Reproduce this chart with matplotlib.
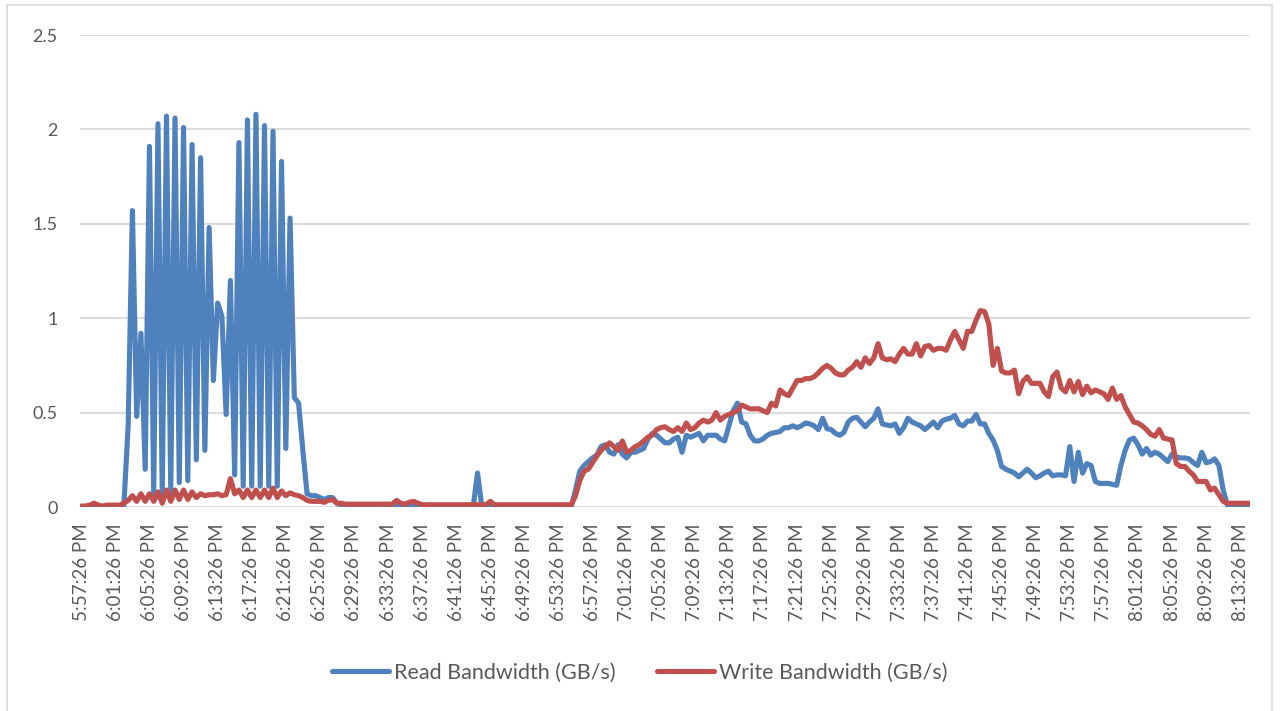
import matplotlib.pyplot as plt
import matplotlib.patches as mpatches
import pandas as pd
import numpy as np

# samples every 30 s starting 5:57:26 PM
times = pd.date_range("2020-01-01 17:57:26", periods=275, freq="30s")
time_labels = [t.strftime("%-I:%M:%S %p") for t in times]

read_bw = [
    0.0, 0.0, 0.0, 0.0, 0.0, 0.0, 0.0, 0.0, 0.0, 0.0,
    0.01, 0.43, 1.57, 0.48, 0.92, 0.20, 1.91, 0.07, 2.03, 0.07,
    2.07, 0.08, 2.06, 0.13, 2.01, 0.14, 1.92, 0.25, 1.85, 0.30,
    1.48, 0.67, 1.08, 1.01, 0.49, 1.20, 0.17, 1.93, 0.11, 2.05,
    0.11, 2.08, 0.11, 2.02, 0.11, 1.99, 0.11, 1.83, 0.31, 1.53,
    0.58, 0.55, 0.30, 0.07, 0.06, 0.06, 0.05, 0.04, 0.05, 0.05,
    0.02, 0.01, 0.005, 0.005, 0.005, 0.005, 0.005, 0.005, 0.005, 0.005,
    0.005, 0.005, 0.005, 0.005, 0.005, 0.005, 0.005, 0.005, 0.005, 0.005,
    0.005, 0.005, 0.005, 0.005, 0.005, 0.005, 0.005, 0.005, 0.005, 0.005,
    0.005, 0.005, 0.005, 0.18, 0.005, 0.005, 0.005, 0.005, 0.005, 0.005,
    0.005, 0.005, 0.005, 0.005, 0.005, 0.005, 0.005, 0.005, 0.005, 0.005,
    0.005, 0.005, 0.005, 0.005, 0.005, 0.005, 0.09, 0.19, 0.22, 0.24,
    0.26, 0.275, 0.32, 0.33, 0.29, 0.28, 0.33, 0.28, 0.26, 0.29,
    0.29, 0.30, 0.31, 0.36, 0.39, 0.38, 0.36, 0.34, 0.34, 0.36,
    0.37, 0.29, 0.38, 0.37, 0.38, 0.39, 0.35, 0.38, 0.38, 0.38,
    0.36, 0.35, 0.43, 0.51, 0.55, 0.45, 0.44, 0.38, 0.35, 0.35,
    0.36, 0.38, 0.39, 0.395, 0.40, 0.42, 0.42, 0.43, 0.42, 0.43,
    0.445, 0.44, 0.43, 0.41, 0.47, 0.415, 0.41, 0.39, 0.38, 0.395,
    0.45, 0.47, 0.475, 0.45, 0.425, 0.45, 0.47, 0.52, 0.44, 0.435,
    0.43, 0.44, 0.39, 0.42, 0.47, 0.45, 0.44, 0.43, 0.41, 0.43,
    0.45, 0.42, 0.455, 0.465, 0.47, 0.485, 0.44, 0.43, 0.455, 0.455,
    0.49, 0.44, 0.44, 0.39, 0.355, 0.30, 0.215, 0.20, 0.19, 0.18,
    0.16, 0.18, 0.20, 0.18, 0.155, 0.165, 0.18, 0.19, 0.165, 0.17,
    0.17, 0.165, 0.32, 0.135, 0.29, 0.18, 0.23, 0.22, 0.135, 0.125,
    0.125, 0.125, 0.12, 0.115, 0.22, 0.30, 0.355, 0.365, 0.33, 0.28,
    0.31, 0.275, 0.29, 0.28, 0.26, 0.24, 0.28, 0.265, 0.26, 0.26,
    0.255, 0.235, 0.22, 0.29, 0.235, 0.24, 0.255, 0.22, 0.09, 0.01,
    0.005, 0.005, 0.005, 0.005, 0.005,
]

write_bw = [
    0.005, 0.005, 0.01, 0.02, 0.01, 0.005, 0.01, 0.01, 0.01, 0.01,
    0.02, 0.035, 0.06, 0.03, 0.07, 0.03, 0.07, 0.03, 0.08, 0.02,
    0.09, 0.03, 0.09, 0.04, 0.09, 0.04, 0.08, 0.05, 0.07, 0.06,
    0.065, 0.065, 0.07, 0.06, 0.065, 0.15, 0.07, 0.09, 0.05, 0.09,
    0.05, 0.09, 0.05, 0.09, 0.05, 0.10, 0.05, 0.085, 0.06, 0.075,
    0.065, 0.06, 0.05, 0.035, 0.03, 0.03, 0.03, 0.025, 0.035, 0.04,
    0.02, 0.02, 0.015, 0.015, 0.015, 0.015, 0.015, 0.015, 0.015, 0.015,
    0.015, 0.015, 0.015, 0.015, 0.035, 0.02, 0.015, 0.025, 0.03, 0.02,
    0.012, 0.012, 0.012, 0.012, 0.012, 0.012, 0.012, 0.012, 0.012, 0.012,
    0.012, 0.012, 0.012, 0.012, 0.012, 0.012, 0.03, 0.012, 0.012, 0.012,
    0.012, 0.012, 0.012, 0.012, 0.012, 0.012, 0.012, 0.012, 0.012, 0.012,
    0.012, 0.012, 0.012, 0.012, 0.012, 0.012, 0.06, 0.14, 0.19, 0.20,
    0.235, 0.27, 0.30, 0.32, 0.34, 0.32, 0.30, 0.35, 0.29, 0.30,
    0.32, 0.33, 0.35, 0.37, 0.38, 0.41, 0.42, 0.425, 0.41, 0.40,
    0.42, 0.40, 0.445, 0.41, 0.42, 0.445, 0.46, 0.45, 0.46, 0.50,
    0.46, 0.48, 0.49, 0.50, 0.51, 0.54, 0.53, 0.52, 0.52, 0.52,
    0.51, 0.50, 0.55, 0.535, 0.62, 0.60, 0.59, 0.63, 0.67, 0.67,
    0.68, 0.68, 0.69, 0.71, 0.735, 0.75, 0.735, 0.71, 0.70, 0.70,
    0.725, 0.74, 0.77, 0.74, 0.79, 0.76, 0.79, 0.865, 0.79, 0.78,
    0.785, 0.77, 0.81, 0.84, 0.81, 0.81, 0.865, 0.80, 0.85, 0.855,
    0.83, 0.84, 0.84, 0.83, 0.885, 0.93, 0.885, 0.84, 0.93, 0.93,
    0.99, 1.04, 1.035, 0.97, 0.75, 0.84, 0.72, 0.71, 0.71, 0.725,
    0.60, 0.665, 0.69, 0.655, 0.655, 0.655, 0.61, 0.585, 0.69, 0.715,
    0.63, 0.61, 0.67, 0.61, 0.665, 0.595, 0.64, 0.605, 0.62, 0.61,
    0.60, 0.57, 0.63, 0.57, 0.59, 0.53, 0.49, 0.45, 0.445, 0.43,
    0.41, 0.385, 0.375, 0.41, 0.365, 0.36, 0.355, 0.23, 0.215, 0.215,
    0.19, 0.17, 0.135, 0.135, 0.135, 0.09, 0.10, 0.065, 0.03, 0.02,
    0.02, 0.02, 0.02, 0.02, 0.02,
]

y_ticks = [0, 0.5, 1, 1.5, 2, 2.5]
y_tick_labels = ["0", "0.5", "1", "1.5", "2", "2.5"]

plt.rcParams['font.family'] = ['Lato', 'DejaVu Sans']

fig = plt.figure(figsize=(12.8, 7.11), dpi=100)
ax = fig.add_axes([80/1280, 1 - 507/711, 1170/1280, 472/711])

x = np.arange(len(read_bw))
ax.plot(x, read_bw, color="#4F81BD", lw=3.7, solid_joinstyle="round",
        solid_capstyle="round", label="Read Bandwidth (GB/s)", zorder=3)
ax.plot(x, write_bw, color="#C0504D", lw=3.7, solid_joinstyle="round",
        solid_capstyle="round", label="Write Bandwidth (GB/s)", zorder=4)

ax.set_ylim(0, 2.5)
ax.set_xlim(-0.3, len(read_bw) - 0.7)
ax.set_yticks(y_ticks)
ax.set_yticklabels(y_tick_labels)
ax.yaxis.grid(True, color="#d9d9d9", lw=1.3)
ax.set_axisbelow(True)

tick_pos = x[::8]
ax.set_xticks(tick_pos)
ax.set_xticklabels([time_labels[i] for i in tick_pos], rotation=90)
ax.tick_params(axis="x", length=0, pad=12, labelsize=13.5, labelcolor="#595959")
ax.tick_params(axis="y", length=0, pad=16, labelsize=13, labelcolor="#595959")
for s in ax.spines.values():
    s.set_visible(False)

leg = fig.legend(loc="center", bbox_to_anchor=(0.5, 1 - 673/711), ncol=2,
                 frameon=False, fontsize=15.5, handlelength=2.65,
                 columnspacing=1.9, handletextpad=0.25)
for t in leg.get_texts():
    t.set_color("#595959")

# chart area border
fig.patches.append(mpatches.Rectangle((7/1280, -0.05), 1265/1280, 1.05 - 5/711,
                                      transform=fig.transFigure, fill=False,
                                      edgecolor="#d9d9d9", lw=1.2))

fig.savefig("out.png", dpi=100)
